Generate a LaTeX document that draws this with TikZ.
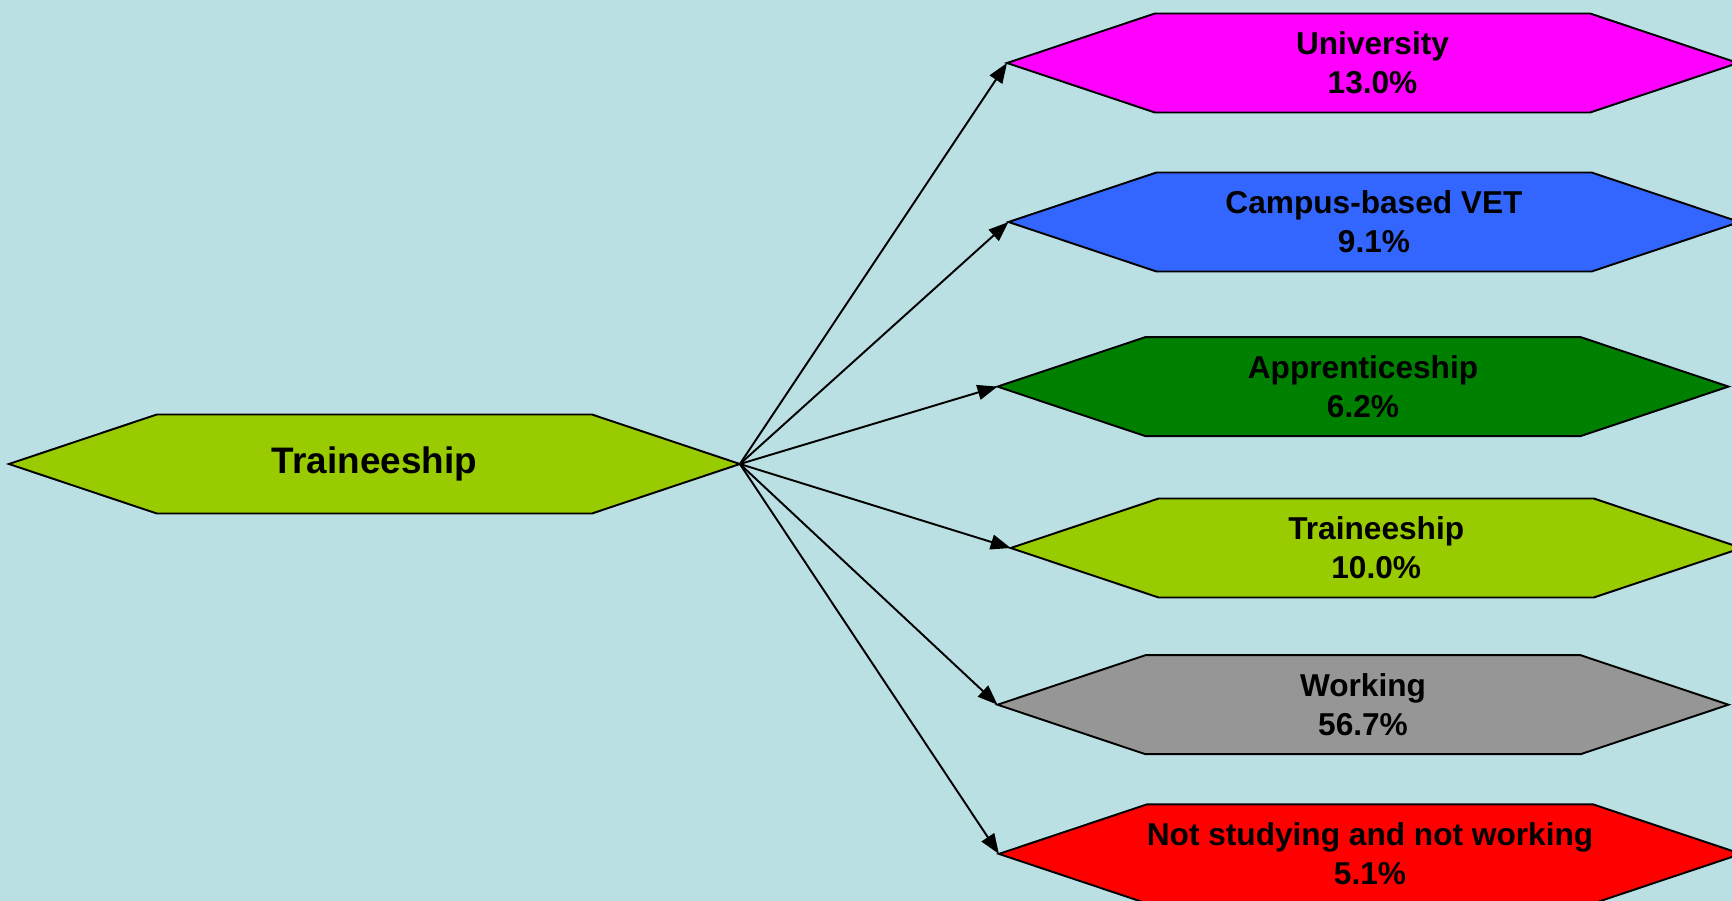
\documentclass[tikz,border=0pt]{standalone}
\usepackage{fontspec}
\setmainfont{Liberation Sans}
\usetikzlibrary{arrows.meta, shapes.symbols}
\definecolor{figBg}{RGB}{186,224,227}
\definecolor{figLime}{RGB}{153,204,0}
\definecolor{figMag}{RGB}{255,0,255}
\definecolor{figBlue}{RGB}{51,102,255}
\definecolor{figGreen}{RGB}{0,128,0}
\definecolor{figGrey}{RGB}{150,150,150}
\definecolor{figRed}{RGB}{255,0,0}
\tikzset{hexbox/.style={signal, signal to=east and west, signal pointer angle=37,
  draw=black, line width=0.55pt, minimum width=7.31cm, minimum height=0.99cm,
  inner sep=0pt, outer sep=0pt, align=center, font=\bfseries\fontsize{9}{11}\selectfont}}

\begin{document}
\begin{tikzpicture}[>={Triangle[length=2mm, width=1.5mm]}]
% ======== background ========
\fill[figBg] (0,0) rectangle (17.32,-9.01);
\useasboundingbox (0,0) rectangle (17.32,-9.01);
% ======== left: starting pathway ========
\node[hexbox, fill=figLime, font=\bfseries\fontsize{10.5}{12.6}\selectfont] (start) at (3.744,-4.64) {Traineeship};
% ======== right: destinations ========
% left tips at x = 10.07, 10.085, 9.975, 10.107, 9.975, 10.019
\foreach \nm/\col/\x/\y/\txt in {
  uni/figMag/13.725/-0.63/{University\\13.0\%},
  vet/figBlue/13.74/-2.22/{Campus-based VET\\9.1\%},
  app/figGreen/13.63/-3.866/{Apprenticeship\\6.2\%},
  tra/figLime/13.762/-5.48/{Traineeship\\10.0\%},
  wrk/figGrey/13.63/-7.047/{Working\\56.7\%},
  nsw/figRed/13.70/-8.539/{Not studying and not working\\5.1\%}}
  \node[hexbox, fill=\col] (\nm) at (\x,\y) {\txt};
% arrows out of the right tip
\foreach \nm in {uni,vet,app,tra,wrk,nsw}
  \draw[->, line width=0.55pt] (start.east) -- (\nm.west);
\end{tikzpicture}
\end{document}
